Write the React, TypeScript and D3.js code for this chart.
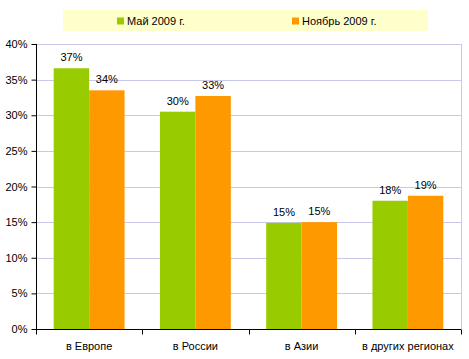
import { useEffect, useRef } from 'react'
import * as d3 from 'd3'

const WIDTH = 469
const HEIGHT = 359
const MARGIN = { top: 44, right: 8, bottom: 30, left: 36 }

const categories = ['в Европе', 'в России', 'в Азии', 'в других регионах']
const seriesNames = ['Май 2009 г.', 'Ноябрь 2009 г.']
const may2009 = [36.6, 30.5, 14.9, 18.0]
const nov2009 = [33.5, 32.7, 15.0, 18.7]
const valueLabels = [
  ['37%', '30%', '15%', '18%'],
  ['34%', '33%', '15%', '19%'],
]
const yTicks = [0, 5, 10, 15, 20, 25, 30, 35, 40]
const COLORS = ['#99cc00', '#ff9900']

const FONT = '"Liberation Sans", Arial, sans-serif'

export default function App() {
  const ref = useRef<SVGSVGElement>(null)

  useEffect(() => {
    const svg = d3.select(ref.current)
    svg.selectAll('*').remove()

    const boundsWidth = WIDTH - MARGIN.left - MARGIN.right
    const boundsHeight = HEIGHT - MARGIN.top - MARGIN.bottom

    const x = d3.scaleBand().domain(categories).range([0, boundsWidth]).paddingInner(0.333).paddingOuter(0.1665)
    const x1 = d3.scaleBand().domain(seriesNames).range([0, x.bandwidth()])
    const y = d3.scaleLinear().domain([0, 40]).range([boundsHeight, 0])

    svg.append('rect').attr('width', WIDTH).attr('height', HEIGHT).attr('fill', 'white')

    // legend
    const legend = svg.append('g')
    legend.append('rect').attr('x', 63).attr('y', 10).attr('width', 365).attr('height', 21).attr('fill', '#ffffcc')
    const legendX = [117, 292]
    seriesNames.forEach((name, i) => {
      legend.append('rect').attr('x', legendX[i]).attr('y', 17.5).attr('width', 7).attr('height', 7).attr('fill', COLORS[i])
      legend
        .append('text')
        .attr('x', legendX[i] + 10)
        .attr('y', 24.5)
        .style('font-family', FONT)
        .style('font-size', '11px')
        .attr('fill', '#000')
        .text(name)
    })

    const g = svg.append('g').attr('transform', `translate(${MARGIN.left},${MARGIN.top})`)

    // gridlines
    g.selectAll('.grid')
      .data(yTicks.filter((t) => t > 0))
      .join('line')
      .attr('x1', 0)
      .attr('x2', boundsWidth)
      .attr('y1', (d) => Math.round(y(d)) + 0.5)
      .attr('y2', (d) => Math.round(y(d)) + 0.5)
      .attr('stroke', '#c8c8ec')
    g.append('line')
      .attr('x1', boundsWidth + 0.5)
      .attr('x2', boundsWidth + 0.5)
      .attr('y1', 0)
      .attr('y2', boundsHeight)
      .attr('stroke', '#c8c8ec')

    const series = [may2009, nov2009]
    series.forEach((vals, si) => {
      g.selectAll(`.bar${si}`)
        .data(categories)
        .join('rect')
        .attr('x', (d) => x(d)! + x1(seriesNames[si])!)
        .attr('width', x1.bandwidth())
        .attr('y', (d, i) => y(vals[i]))
        .attr('height', (d, i) => boundsHeight - y(vals[i]))
        .attr('fill', COLORS[si])
      g.selectAll(`.lab${si}`)
        .data(categories)
        .join('text')
        .attr('x', (d) => x(d)! + x1(seriesNames[si])! + x1.bandwidth() / 2)
        .attr('y', (d, i) => y(vals[i]) - 7)
        .attr('text-anchor', 'middle')
        .style('font-family', FONT)
        .style('font-size', '11px')
        .attr('fill', '#000')
        .text((d, i) => valueLabels[si][i])
    })

    // y axis
    const yAxis = g
      .append('g')
      .attr('transform', 'translate(0.5,0)')
      .call(
        d3
          .axisLeft(y)
          .tickValues(yTicks)
          .tickFormat((d) => `${d}%`)
          .tickSize(5)
          .tickPadding(4),
      )
    yAxis.selectAll('text').style('font-family', FONT).style('font-size', '11px').attr('fill', '#000')
    yAxis.select('.domain').attr('d', `M0,${y(40)}V${boundsHeight}`)

    // x axis
    const xAxis = g.append('g').attr('transform', `translate(0,${boundsHeight + 0.5})`)
    xAxis.append('line').attr('x1', 0).attr('x2', boundsWidth).attr('stroke', '#000')
    const step = x.step()
    xAxis
      .selectAll('.tick')
      .data(d3.range(categories.length + 1))
      .join('line')
      .attr('x1', (i) => Math.round(i * step) + 0.5)
      .attr('x2', (i) => Math.round(i * step) + 0.5)
      .attr('y1', 0)
      .attr('y2', 5)
      .attr('stroke', '#000')
    xAxis
      .selectAll('.lab')
      .data(categories)
      .join('text')
      .attr('x', (d) => x(d)! + x.bandwidth() / 2)
      .attr('y', 20)
      .attr('text-anchor', 'middle')
      .style('font-family', FONT)
      .style('font-size', '11px')
      .attr('fill', '#000')
      .text((d) => d)
  }, [])

  return <svg ref={ref} width={WIDTH} height={HEIGHT} style={{ position: 'absolute', left: 0, top: 0 }} />
}
